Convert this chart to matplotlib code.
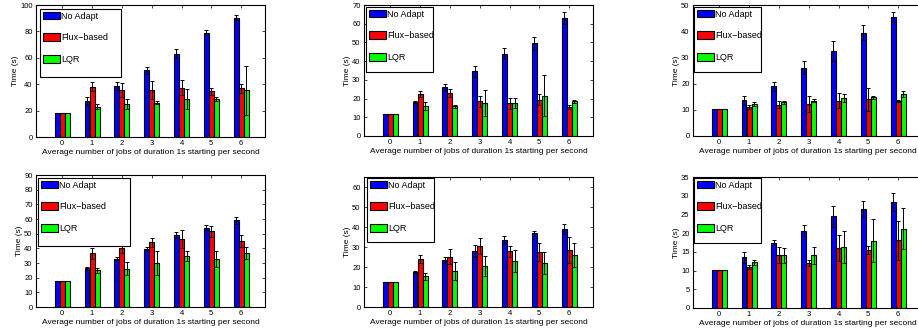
import numpy as np
import matplotlib.pyplot as plt
from matplotlib.patches import Patch, Rectangle

plt.rcParams['font.family'] = ['Liberation Sans', 'DejaVu Sans']

# x categories: average number of jobs per second
jobs = [0, 1, 2, 3, 4, 5, 6]
series_names = ['No Adapt', 'Flux\u2212based', 'LQR']
series_colors = ['#0000ff', '#ff0000', '#00ff00']

# top-left
p1_noadapt = [18, 27, 38.5, 50.5, 63, 79, 90.5]
p1_noadapt_err = [0, 3, 3, 2.5, 3.5, 2, 2]
p1_flux = [18, 38, 35.5, 35.5, 37.5, 34.5, 37]
p1_flux_err = [0, 3.5, 5.5, 7, 6, 2.5, 3.5]
p1_lqr = [18, 23, 25, 26, 29, 28.5, 35.5]
p1_lqr_err = [0, 2, 3.5, 1, 7.5, 1.5, 18.5]

# top-middle
p2_noadapt = [12, 18, 26, 34.5, 44, 49.5, 63]
p2_noadapt_err = [0, 0.5, 2, 3, 2.8, 3.3, 3]
p2_flux = [12, 22.3, 23, 18.5, 17.5, 19.5, 15.5]
p2_flux_err = [0, 1.5, 2, 3, 3, 2.8, 1]
p2_lqr = [12, 16, 15.8, 17.5, 17.5, 21.5, 18.7]
p2_lqr_err = [0, 2, 1, 7, 2.8, 11, 0.8]

# top-right
p3_noadapt = [10.3, 13.7, 19, 26, 32.5, 39.5, 45.5]
p3_noadapt_err = [0, 1.5, 1.8, 2.5, 3.7, 2.8, 2]
p3_flux = [10.3, 11, 12, 12.3, 13.5, 14, 13.3]
p3_flux_err = [0, 0.8, 1.3, 3, 3, 4.3, 0.5]
p3_lqr = [10.3, 12.3, 12.8, 13.5, 14.5, 14.7, 16]
p3_lqr_err = [0, 0.8, 0.7, 0.7, 1.7, 0.5, 1]

# bottom-left
p4_noadapt = [18, 26.5, 33, 39.5, 49, 54, 59]
p4_noadapt_err = [0, 1, 1.2, 1.2, 1.8, 1.8, 2.5]
p4_flux = [18, 36.5, 40, 44, 46.5, 51.5, 45]
p4_flux_err = [0, 3.8, 3, 2.8, 6, 3.5, 4]
p4_lqr = [18, 25, 26, 30, 35, 32.5, 37]
p4_lqr_err = [0, 1.8, 4.5, 8.5, 3.5, 5.5, 4]

# bottom-middle
p5_noadapt = [12.3, 17.5, 23.3, 28, 33.7, 36.8, 39.2]
p5_noadapt_err = [0, 0.7, 1.5, 3, 2, 1.2, 2.5]
p5_flux = [12.3, 24, 25.2, 30.7, 27.8, 27.7, 28.3]
p5_flux_err = [0, 2.2, 3.8, 4, 2.7, 4.5, 6.5]
p5_lqr = [12.3, 15.3, 17.8, 20.5, 23, 22, 26]
p5_lqr_err = [0, 1.8, 4.5, 5, 5.7, 5.7, 6]

# bottom-right
p6_noadapt = [10.2, 13.5, 17.5, 20.7, 24.5, 26.5, 28.2]
p6_noadapt_err = [0, 1.5, 0.8, 1.5, 2.8, 2.1, 2.4]
p6_flux = [10.2, 11, 14.2, 12.1, 16, 15.5, 18.1]
p6_flux_err = [0, 0.5, 2.2, 0.8, 3.5, 1, 5.2]
p6_lqr = [10.2, 12.2, 14.1, 14.1, 16.3, 18, 21.2]
p6_lqr_err = [0, 0.6, 2, 2.3, 4.4, 5.7, 5.5]

panels = [
    ([p1_noadapt, p1_flux, p1_lqr], [p1_noadapt_err, p1_flux_err, p1_lqr_err], 100, 20),
    ([p2_noadapt, p2_flux, p2_lqr], [p2_noadapt_err, p2_flux_err, p2_lqr_err], 70, 10),
    ([p3_noadapt, p3_flux, p3_lqr], [p3_noadapt_err, p3_flux_err, p3_lqr_err], 50, 10),
    ([p4_noadapt, p4_flux, p4_lqr], [p4_noadapt_err, p4_flux_err, p4_lqr_err], 90, 10),
    ([p5_noadapt, p5_flux, p5_lqr], [p5_noadapt_err, p5_flux_err, p5_lqr_err], 65, 10),
    ([p6_noadapt, p6_flux, p6_lqr], [p6_noadapt_err, p6_flux_err, p6_lqr_err], 35, 5),
]

W, H = 918, 333
fig = plt.figure(figsize=(W / 100, H / 100), dpi=100)

# axes boxes in pixels: left, top, right, bottom
boxes = [
    (36, 5, 265, 137), (364, 5, 593, 136), (693, 5, 922, 136),
    (36, 175, 265, 307), (364, 177, 593, 307), (693, 177, 922, 308),
]
# legend frames in pixels, relative to axes top-left: dx, dy, width, height
leg_boxes = [
    (4, 4, 81, 68), (2, 2, 67, 65), (1, 2, 67, 65),
    (2, 3, 92, 68), (3, 1, 67, 64), (1, 1, 67, 65),
]

x = np.array(jobs)
bw = 0.165
offsets = [-0.17, 0, 0.17]

for (vals, errs, ytop, ystep), (l, t, r, b), (dx, dy, lw_, lh) in zip(panels, boxes, leg_boxes):
    aw, ah = r - l, b - t
    ax = fig.add_axes([l / W, (H - b) / H, aw / W, ah / H])
    for k in range(3):
        ax.bar(x + offsets[k], vals[k], width=bw, color=series_colors[k],
               edgecolor='black', linewidth=0.8, zorder=2)
        ax.errorbar(x + offsets[k], vals[k], yerr=errs[k], fmt='none',
                    ecolor='black', elinewidth=0.7, capsize=1.4,
                    capthick=0.7, zorder=3)
    ax.set_xlim(-0.88, 6.8)
    ax.set_ylim(0, ytop)
    ax.set_xticks(jobs)
    ax.set_yticks(np.arange(0, ytop + 0.1, ystep))
    ax.tick_params(direction='in', length=2, width=0.5, labelsize=5.5,
                   top=True, right=True, pad=2.5)
    for s in ax.spines.values():
        s.set_linewidth(0.8)
    ax.set_xlabel('Average number of jobs of duration 1s starting per second',
                  fontsize=6, labelpad=1)
    ax.set_ylabel('Time (s)', fontsize=6, labelpad=1)

    # legend: white box with black frame, entries drawn on top
    fx, fy = dx / aw, 1 - dy / ah
    ax.add_patch(Rectangle((fx, fy - lh / ah), lw_ / aw, lh / ah, transform=ax.transAxes,
                           facecolor='white', edgecolor='black', linewidth=0.8,
                           zorder=4, clip_on=False))
    handles = [Patch(facecolor=c, edgecolor='black', linewidth=0.8) for c in series_colors]
    leg = ax.legend(handles, series_names, loc='upper left', bbox_to_anchor=(fx, fy),
                    fontsize=6.5, frameon=False, handlelength=1.9, handleheight=0.9,
                    handletextpad=0.1, labelspacing=1.4, borderpad=0.3,
                    borderaxespad=0)
    leg.set_zorder(5)

fig.savefig('out.png', dpi=100)
